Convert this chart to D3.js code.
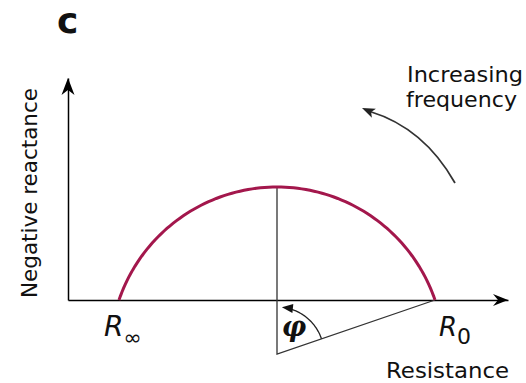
<!DOCTYPE html>
<html>
<head>
<meta charset="utf-8">
<script src="https://cdn.jsdelivr.net/npm/d3@7"></script>
<style>
  html, body { margin: 0; padding: 0; background: #fff; }
  svg { display: block; }
  text { font-family: "DejaVu Sans", sans-serif; fill: #111; }
</style>
</head>
<body>
<svg id="chart" width="526" height="383"></svg>
<script>
// Cole plot: depressed semicircle of impedance
const axisTitles = ["Resistance", "Negative reactance"];
const resistanceEnds = [51, 367];          // R∞ and R0 on the resistance axis
const endSubscripts = ["∞", "0"];
const centreReactance = [-54];             // circle centre lies below the axis
const resistanceDomain = [0, 440];
const reactanceDomain = [0, 222];
const freqNote = ["Increasing", "frequency"];
const panelLetter = ["c"];

const svg = d3.select("#chart");
const x = d3.scaleLinear().domain(resistanceDomain).range([68, 508]);
const y = d3.scaleLinear().domain(reactanceDomain).range([300, 78]);

// axes with no ticks, just the domain lines
const gx = svg.append("g").attr("transform", `translate(0,${y(0)})`)
  .call(d3.axisBottom(x).tickValues([]).tickSizeOuter(0));
const gy = svg.append("g").attr("transform", `translate(${x(0)},0)`)
  .call(d3.axisLeft(y).tickValues([]).tickSizeOuter(0));
[gx, gy].forEach(g => g.select(".domain").attr("stroke", "#000").attr("stroke-width", 1.5));

// arrowheads
function arrowHead(px, py, angleDeg, len, half, notch, colour) {
  svg.append("path")
    .attr("d", `M0,0 L${-len},${-half} L${-len + notch},0 L${-len},${half} Z`)
    .attr("transform", `translate(${px},${py}) rotate(${angleDeg})`)
    .attr("fill", colour);
}
arrowHead(x(resistanceDomain[1]), y(0), 0, 15, 6, 5, "#000");
arrowHead(x(0), y(reactanceDomain[1]), -90, 17, 6.5, 5, "#000");

// circle geometry from the two intercepts and the centre depth
const cx = (resistanceEnds[0] + resistanceEnds[1]) / 2;
const cy = centreReactance[0];
const half = (resistanceEnds[1] - resistanceEnds[0]) / 2;
const radius = Math.hypot(half, cy);
const a0 = Math.atan2(-cy, -half);   // angle at R∞
const a1 = Math.atan2(-cy, half);    // angle at R0
const arcPts = d3.range(0, 101).map(i => {
  const a = a0 + (a1 - a0) * i / 100;
  return [cx + radius * Math.cos(a), cy + radius * Math.sin(a)];
});
const line = d3.line().x(d => x(d[0])).y(d => y(d[1]));

// construction lines: centre to apex, centre to R0
svg.append("path")
  .attr("d", line([[cx, cy + radius], [cx, cy], [resistanceEnds[1], 0]]))
  .attr("fill", "none").attr("stroke", "#333").attr("stroke-width", 1.3);

// impedance locus
svg.append("path")
  .attr("d", line(arcPts))
  .attr("fill", "none").attr("stroke", "#A3174C").attr("stroke-width", 3)
  .attr("stroke-linecap", "butt");

// angle phi between the radius to R0 and the vertical
const pcx = x(cx), pcy = y(cy);
const angR = 47;
const angStart = Math.atan2(pcy - y(0), x(resistanceEnds[1]) - pcx);
const angEnd = 74 * Math.PI / 180;
const angPts = d3.range(0, 41).map(i => {
  const a = angStart + (angEnd - angStart) * i / 40;
  return [pcx + angR * Math.cos(a), pcy - angR * Math.sin(a)];
});
svg.append("path")
  .attr("d", d3.line()(angPts))
  .attr("fill", "none").attr("stroke", "#222").attr("stroke-width", 1.3);
{
  const aTip = 84 * Math.PI / 180;
  const tip = [pcx + angR * Math.cos(aTip), pcy - angR * Math.sin(aTip)];
  const tangentDeg = Math.atan2(-Math.cos(aTip), -Math.sin(aTip)) * 180 / Math.PI;
  arrowHead(tip[0], tip[1], tangentDeg, 11, 4.5, 0, "#111");
}
svg.append("text")
  .attr("x", pcx + 17).attr("y", pcy - 18)
  .attr("text-anchor", "middle")
  .style("font-family", "'DejaVu Serif', serif")
  .style("font-weight", "bold").style("font-style", "italic")
  .style("font-size", "27px")
  .text("φ");

// end labels R∞ and R0
const labelDx = [-15, 4];
const subDy = [9, 8];
resistanceEnds.forEach((r, i) => {
  const t = svg.append("text")
    .attr("x", x(r) + labelDx[i]).attr("y", 336)
    .style("font-size", i === 0 ? "28px" : "26px");
  t.append("tspan").style("font-style", "italic").text("R");
  t.append("tspan").attr("dy", subDy[i])
    .style("font-size", "22px").text(endSubscripts[i]);
});

// axis titles
svg.append("text")
  .attr("x", 386).attr("y", 378)
  .attr("textLength", 123).attr("lengthAdjust", "spacingAndGlyphs")
  .style("font-size", "21px")
  .text(axisTitles[0]);
svg.append("text")
  .attr("transform", "translate(37,193) rotate(-90)")
  .attr("text-anchor", "middle")
  .attr("textLength", 210).attr("lengthAdjust", "spacingAndGlyphs")
  .style("font-size", "21px")
  .text(axisTitles[1]);

// frequency annotation
svg.append("text").attr("x", 407).attr("y", 82)
  .attr("textLength", 116).attr("lengthAdjust", "spacingAndGlyphs")
  .style("font-size", "22px").text(freqNote[0]);
svg.append("text").attr("x", 406).attr("y", 107)
  .attr("textLength", 111).attr("lengthAdjust", "spacingAndGlyphs")
  .style("font-size", "22px").text(freqNote[1]);

const curveStart = [455, 183], curveCtrl = [424, 128], curveTip = [362, 108];
svg.append("path")
  .attr("d", `M${curveStart} Q${curveCtrl} ${curveTip[0] + 8},${curveTip[1] + 3.5}`)
  .attr("fill", "none").attr("stroke", "#333").attr("stroke-width", 1.8);
{
  const dx = curveTip[0] - curveCtrl[0], dy = curveTip[1] - curveCtrl[1];
  arrowHead(curveTip[0], curveTip[1], Math.atan2(dy, dx) * 180 / Math.PI + 6, 13, 5, 3, "#222");
}

// panel letter
svg.append("text").attr("x", 57).attr("y", 33)
  .style("font-size", "36px").style("font-weight", "bold")
  .text(panelLetter[0]);
</script>
</body>
</html>
